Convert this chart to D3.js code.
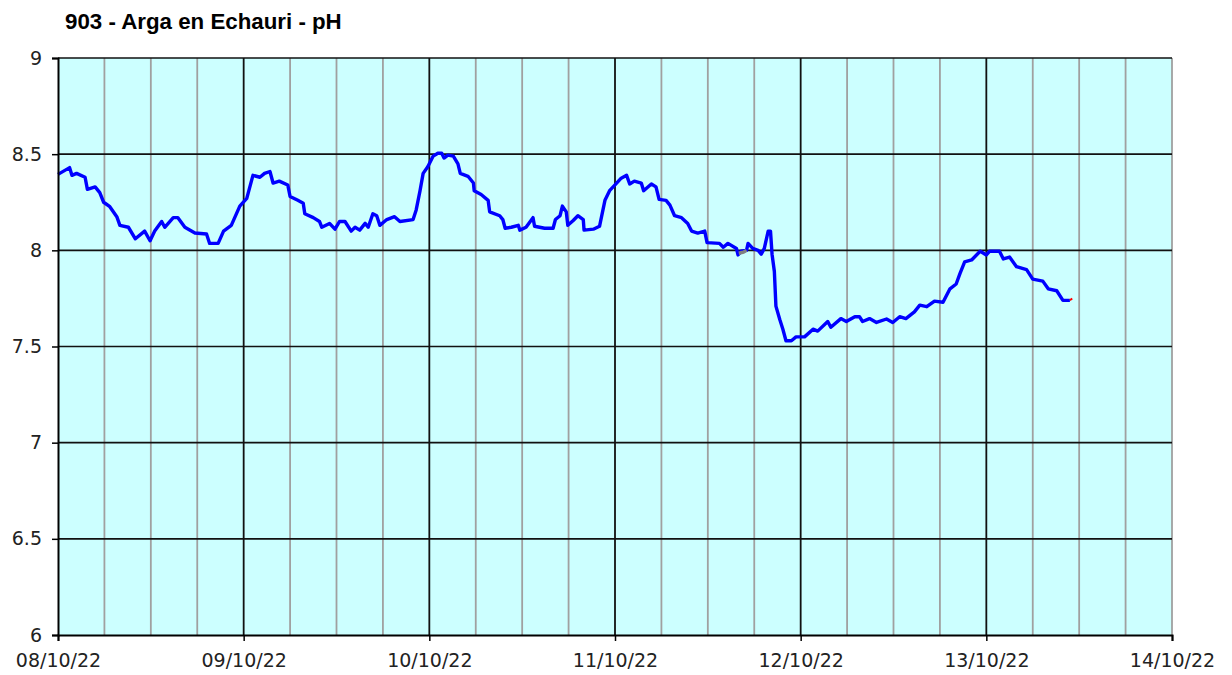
<!DOCTYPE html>
<html>
<head>
<meta charset="utf-8">
<script src="https://cdn.jsdelivr.net/npm/d3@7/dist/d3.min.js"></script>
<style>
  body { margin: 0; background: #fff; }
  svg { display: block; }
</style>
</head>
<body>
<svg id="chart"></svg>
<script>
const title = '903 - Arga en Echauri - pH';
const startDate = new Date(2022, 9, 8);
const endDate   = new Date(2022, 9, 14);
const yTicks = [6, 6.5, 7, 7.5, 8, 8.5, 9];

// hours since 08/10/22 00:00 and pH readings
const hours = [
  0, 1.5, 1.8, 2.4, 3.5, 3.8, 4.8, 5.4, 5.9, 6.7, 7.6, 8.0, 9.1, 10.0, 11.2, 11.9, 12.5,
  13.4, 13.8, 14.9, 15.5, 16.4, 17.7, 19.2, 19.6, 20.7, 21.4, 22.4, 23.5, 24.4, 25.2,
  26.1, 26.7, 27.4, 27.8, 28.6, 29.7, 30.0, 31.0, 31.7, 31.9, 33.0, 33.8, 34.1, 35.1,
  35.8, 36.4, 37.1, 37.9, 38.4, 39.0, 39.7, 40.1, 40.7, 41.2, 41.6, 42.5, 43.5, 44.2,
  45.9, 46.3, 46.8, 47.2, 47.8, 48.5, 49.1, 49.6, 49.9, 50.4, 51.1, 51.7, 52.0, 53.0,
  53.7, 53.8, 54.7, 55.6, 55.8, 57.1, 57.5, 57.8, 58.6, 59.5, 59.7, 60.5, 61.4, 61.6,
  62.9, 64.0, 64.3, 64.9, 65.2, 65.7, 65.9, 66.6, 67.2, 67.9, 68.0, 69.2, 70.0, 70.7,
  71.3, 72.0, 72.8, 73.5, 73.9, 74.5, 75.4, 75.7, 76.7, 77.3, 77.7, 78.6, 79.1, 79.7,
  80.6, 81.4, 81.9, 82.7, 83.6, 83.9, 85.5, 86.0, 86.6, 87.7, 87.9, 88.3, 89.0, 89.2,
  89.8, 90.5, 90.9, 91.3, 91.8, 92.1, 92.3, 92.6, 92.8, 93.3, 93.7, 94.1, 94.8, 95.4,
  96.5, 97.6, 98.2, 99.5, 99.9, 101.2, 101.9, 103.0, 103.6, 104.0, 104.9, 105.8, 107.1,
  107.9, 108.8, 109.6, 110.7, 111.4, 112.3, 113.3, 114.4, 115.3, 116.1, 116.6, 117.2,
  118.1, 119.2, 120.0, 120.4, 121.7, 122.2, 123.0, 123.9, 125.2, 126.0, 127.3, 128.0,
  129.1, 129.9, 130.8
];
const ph = [
  8.395, 8.43, 8.39, 8.40, 8.38, 8.317, 8.33, 8.30, 8.25, 8.227, 8.175, 8.13, 8.12, 8.06, 8.10, 8.05, 8.10,
  8.15, 8.12, 8.17, 8.17, 8.12, 8.09, 8.085, 8.036, 8.036, 8.10, 8.13, 8.23, 8.27, 8.39,
  8.38, 8.40, 8.41, 8.35, 8.36, 8.34, 8.28, 8.26, 8.245, 8.19, 8.17, 8.15, 8.12, 8.14,
  8.11, 8.15, 8.15, 8.10, 8.12, 8.105, 8.14, 8.12, 8.19, 8.18, 8.13, 8.16, 8.175, 8.15,
  8.16, 8.21, 8.31, 8.40, 8.435, 8.49, 8.505, 8.505, 8.48, 8.495, 8.49, 8.45, 8.40, 8.385,
  8.35, 8.31, 8.29, 8.26, 8.20, 8.18, 8.16, 8.115, 8.12, 8.13, 8.105, 8.12, 8.17, 8.125,
  8.115, 8.115, 8.16, 8.18, 8.23, 8.20, 8.13, 8.155, 8.18, 8.16, 8.105, 8.11, 8.125, 8.26,
  8.31, 8.34, 8.375, 8.39, 8.345, 8.36, 8.35, 8.31, 8.345, 8.33, 8.265, 8.26, 8.235, 8.18,
  8.17, 8.14, 8.10, 8.09, 8.10, 8.04, 8.036, 8.016, 8.036, 8.01, 7.976, 7.995, 8.00, 8.036,
  8.01, 8.00, 7.98, 8.01, 8.10, 8.10, 7.98, 7.89, 7.71, 7.64, 7.59, 7.53, 7.53, 7.55,
  7.55, 7.59, 7.58, 7.63, 7.60, 7.645, 7.63, 7.655, 7.655, 7.63, 7.645, 7.625, 7.643,
  7.625, 7.655, 7.645, 7.68, 7.715, 7.707, 7.736, 7.73, 7.80, 7.825, 7.88, 7.94,
  7.95, 7.995, 7.976, 7.995, 7.995, 7.955, 7.965, 7.915, 7.90, 7.85, 7.84, 7.80,
  7.79, 7.74, 7.74
];
// short gray stretch and red last reading
const grayHours = [88.0, 88.6, 89.0];
const grayPh    = [7.985, 7.99, 8.0];
const redHours  = [130.8, 131.1];
const redPh     = [7.74, 7.75];

const width = 1232, height = 675;
const margin = { top: 58, right: 60, bottom: 40, left: 58 };
const w = width - margin.left - margin.right;
const h = height - margin.top - margin.bottom;

const toDate = hr => new Date(startDate.getTime() + hr * 3600e3);

const svg = d3.select('#chart').attr('width', width).attr('height', height);

svg.append('text')
  .attr('x', 65).attr('y', 29)
  .attr('font-family', 'Liberation Sans, Arial, sans-serif')
  .attr('font-weight', 'bold')
  .attr('font-size', 22.3)
  .attr('fill', '#000')
  .text(title);

const x = d3.scaleTime().domain([startDate, endDate]).range([0, w]);
const y = d3.scaleLinear().domain([6, 9]).range([h, 0]);

const g = svg.append('g').attr('transform', `translate(${margin.left},${margin.top})`);

g.append('rect').attr('width', w).attr('height', h).attr('fill', '#CCFFFF');

// vertical grid, every 6 hours
const sixHours = d3.timeHour.every(6).range(startDate, d3.timeHour.offset(endDate, 1));
g.append('g').selectAll('line')
  .data(sixHours.filter(d => d > startDate))
  .join('line')
  .attr('x1', d => x(d)).attr('x2', d => x(d))
  .attr('y1', 0).attr('y2', h)
  .attr('stroke', d => (d.getHours() === 0 && d < endDate) ? '#111' : '#a0a0a0')
  .attr('stroke-width', 1.8);

// horizontal grid
g.append('g').selectAll('line')
  .data(yTicks.filter(v => v > 6))
  .join('line')
  .attr('x1', 0).attr('x2', w)
  .attr('y1', d => y(d)).attr('y2', d => y(d))
  .attr('stroke', '#111')
  .attr('stroke-width', 1.6);

const lineGen = d3.line().x(d => x(toDate(d[0]))).y(d => y(d[1]));

g.append('path')
  .datum(d3.zip(hours, ph))
  .attr('fill', 'none')
  .attr('stroke', '#0000FF')
  .attr('stroke-width', 3.4)
  .attr('stroke-linejoin', 'round')
  .attr('d', lineGen);

g.append('path')
  .datum(d3.zip(grayHours, grayPh))
  .attr('fill', 'none').attr('stroke', '#808080').attr('stroke-width', 3.4)
  .attr('d', lineGen);

g.append('path')
  .datum(d3.zip(redHours, redPh))
  .attr('fill', 'none').attr('stroke', '#ff0000').attr('stroke-width', 2)
  .attr('d', lineGen);

// axes
const fmt = d3.timeFormat('%d/%m/%y');
const xAxis = g.append('g')
  .attr('transform', `translate(0,${h})`)
  .call(d3.axisBottom(x).tickValues(d3.timeDay.range(startDate, d3.timeDay.offset(endDate, 1)))
    .tickFormat(fmt).tickSize(6).tickPadding(9));
const yAxis = g.append('g')
  .call(d3.axisLeft(y).tickValues(yTicks).tickFormat(d3.format('')).tickSize(6).tickPadding(10));

[xAxis, yAxis].forEach(a => {
  a.select('.domain').attr('stroke', '#000').attr('stroke-width', 2);
  a.selectAll('.tick line').attr('stroke', '#000').attr('stroke-width', 1.5);
  a.selectAll('text')
    .attr('font-family', 'DejaVu Sans, Verdana, sans-serif')
    .attr('font-size', 19)
    .attr('fill', '#222');
});
xAxis.selectAll('text').attr('dy', '0.9em');
</script>
</body>
</html>
